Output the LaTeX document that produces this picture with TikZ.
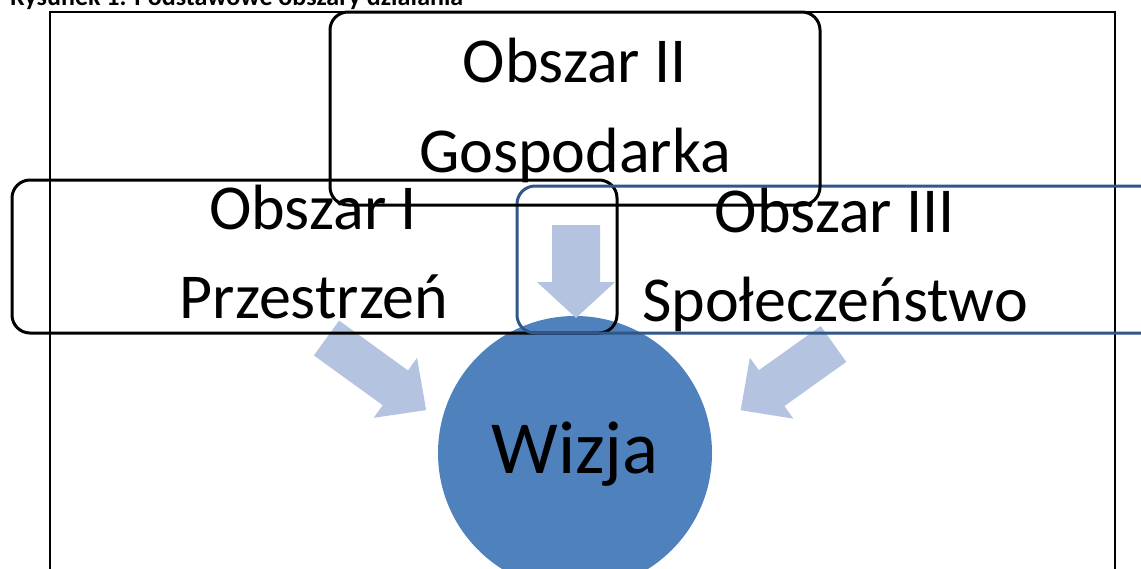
\documentclass[tikz,border=0pt]{standalone}
\usepackage{fontspec}
\setmainfont{Carlito}
\usetikzlibrary{positioning}

\definecolor{wizjablue}{HTML}{4F81BD}
\definecolor{arrowblue}{HTML}{B3C3E0}
\definecolor{frameblue}{HTML}{30568A}

\begin{document}
\begin{tikzpicture}
    [
        x=1pt, y=-1pt,
        area/.style={draw, line width=3pt, rounded corners=18pt, inner sep=0pt},
        areatext/.style={font=\fontsize{64}{64}\selectfont, anchor=base, inner sep=0pt},
    ]
    \useasboundingbox (0,0) rectangle (1141,568);
    
    % caption, cut by the page edge
    \node [font=\bfseries\fontsize{26}{26}\selectfont, anchor=base west, inner sep=0pt]
        (caption) at (10,5) {Rysunek 1. Podstawowe obszary działania};
    
    \draw [line width=1.5pt] (50,12) rectangle (1115,620);
    
    \node [circle, fill=wizjablue, minimum size=274pt, inner sep=0pt] (wizja) at (575,453) {};
    
    \foreach \tx/\ty/\ang/\len/\shaft/\head/\tip in
    {576/225/-90/93/24/39/36, 326.5/338/-35.9/123/21.5/37/38, 833.5/344/-144.5/114/22/37.5/38}
    {
        \fill [arrowblue, shift={(\tx,\ty)}, rotate=\ang]
            (0,-\shaft) -- (\len-\tip,-\shaft) -- (\len-\tip,-\head) -- (\len,0)
            -- (\len-\tip,\head) -- (\len-\tip,\shaft) -- (0,\shaft) -- cycle;
    }
    
    \node [area, minimum width=605pt, minimum height=153pt] (obszar1) at (314.5,256.5) {};
    \node [area, draw=frameblue, minimum width=653pt, minimum height=147pt] (obszar3) at (843.5,259.5) {};
    \node [area, minimum width=490pt, minimum height=193pt] (obszar2) at (575,108.5) {};
    
    \node [areatext] (obszar2a) at (575,82) {Obszar II};
    \node [areatext] (obszar2b) at (575,172) {Gospodarka};
    \node [areatext] (obszar1a) at (313,229) {Obszar I};
    \node [areatext] (obszar1b) at (314,318) {Przestrzeń};
    \node [areatext] (obszar3a) at (835,232) {Obszar III};
    \node [areatext] (obszar3b) at (835,321) {Społeczeństwo};
    \node [font=\fontsize{75}{75}\selectfont, anchor=base, inner sep=0pt] (wizjatext) at (575,473) {Wizja};
    
\end{tikzpicture}
\end{document}
